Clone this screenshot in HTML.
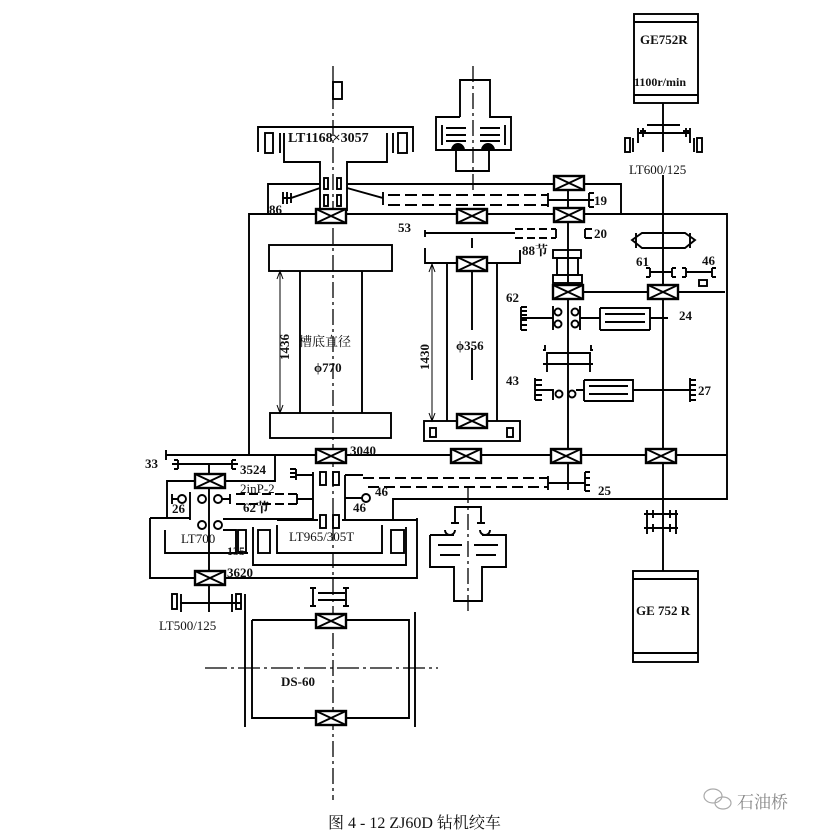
<!DOCTYPE html>
<html><head><meta charset="utf-8"><style>
html,body{margin:0;padding:0;background:#fff;}
svg{display:block;}
text{font-family:"Liberation Serif","Noto Serif CJK SC",serif;fill:#111;}
</style></head><body>
<svg width="834" height="839" viewBox="0 0 834 839" xmlns="http://www.w3.org/2000/svg">
<defs>
<g id="brg"><rect x="-15" y="-7" width="30" height="14" fill="#fff" stroke="#000" stroke-width="2.4"/><path d="M-15,-7 L15,7 M-15,7 L15,-7" stroke="#000" stroke-width="1.8"/></g>
</defs>
<g fill="none" stroke="#000" stroke-width="1.9">
<path d="M333,66 V800" stroke-dasharray="16,4,3,4" stroke-width="1.3"/>
<rect x="333" y="82" width="9" height="17"/>
<path d="M473,66 V190" stroke-dasharray="16,4,3,4" stroke-width="1.3"/>
<path d="M468,487 V612" stroke-dasharray="16,4,3,4" stroke-width="1.3"/>

<path d="M249,455 V214 H727 V499 H393 V519"/>
<path d="M268,214 V184 H320 M347,184 H621 V214"/>

<path d="M258,152 V127 H413 V152"/>
<rect x="265" y="133" width="8" height="20"/><path d="M280,133 V153 M393,133 V153"/>
<rect x="398" y="133" width="9" height="20"/>
<path d="M284,133 V162 H320 V211 M347,211 V162 H387 V133"/>
<rect x="324" y="178" width="4" height="11"/><rect x="337" y="178" width="4" height="11"/>
<rect x="324" y="195" width="4" height="11"/><rect x="337" y="195" width="4" height="11"/>
<path d="M320,188 L291,198 H283 M287,192 V204 M283,192 V204 M291,193 V203"/>
<path d="M347,188 L383,198 M383,192 V205"/>
<path d="M388,195 H548 M388,205 H548" stroke-dasharray="12,5"/>
<path d="M548,193 V207 M548,200 H589 M589,193 V207 M589,193 H594 M589,200 H594 M589,207 H594"/>

<path d="M460,117 V80 H490 V117 H511 V140 M460,117 H436 V140 M436,140 V150 H511 V140"/>
<path d="M442,125 V145 M505,125 V145 M446,128 H466 M446,135 H466 M446,141 H466 M480,128 H500 M480,135 H500 M480,141 H500"/>
<path d="M456,150 V171 H489 V150"/>
<path d="M452,150 a6,6 0 0 1 12,0 M482,150 a6,6 0 0 1 12,0" fill="#000"/>

<rect x="269" y="245" width="123" height="26"/>
<rect x="270" y="413" width="121" height="25"/>
<path d="M300,271 V413 M362,271 V413"/>
<path d="M280,273 V411 M277,279 L280,271 L283,279 M277,405 L280,413 L283,405" stroke-width="1"/>

<path d="M425,233 H515 M425,230 V237"/>
<path d="M515,229 H556 M515,238 H556" stroke-dasharray="8,4"/>
<path d="M556,229 V238 M585,229 V238 M585,229 H592 M585,238 H592"/>
<path d="M425,248 V263 H520 V250 M472,238 V248"/>
<path d="M447,263 V421 M497,263 V421 M472,271 V330 M472,348 V380"/>
<path d="M432,265 V420 M429,272 L432,264 L435,272 M429,413 L432,421 L435,413" stroke-width="1"/>
<rect x="424" y="421" width="96" height="20"/>
<rect x="430" y="428" width="6" height="9"/><rect x="507" y="428" width="6" height="9"/>

<path d="M568,189 V455 M568,462 V490"/>
<rect x="553" y="250" width="28" height="8"/><rect x="557" y="258" width="21" height="17"/><rect x="553" y="275" width="29" height="8"/>
<path d="M584,292 H648 M677,292 H725"/>
<path d="M521,318 H553 M521,307 V330 M521,307 H527 M521,311 H527 M521,315 H527 M521,320 H527 M521,325 H527 M521,330 H527"/>
<circle cx="558" cy="312" r="3.5"/><circle cx="558" cy="324" r="3.5"/><circle cx="575" cy="312" r="3.5"/><circle cx="575" cy="324" r="3.5"/>
<path d="M553,306 V330 M580,306 V330 M580,318 H600 M600,308 V330 M600,308 H650 V330 M600,330 H650 M605,314 H645 M605,322 H645" />
<path d="M650,318 H668"/>
<path d="M545,345 V350 H543 M591,345 V350 H593 M547,353 H590 V364 H547 Z M547,364 V372 M590,364 V372 M543,364 H593"/>
<path d="M535,378 V400 M535,380 H542 M535,385 H542 M535,390 H542 M535,395 H542 M535,400 H542 M542,390 H553 V400"/>
<circle cx="559" cy="394" r="3.5"/><circle cx="572" cy="394" r="3.5"/>
<path d="M576,390 H584 V401 M584,380 H633 V401 H584 M584,380 V390 M589,386 H628 M589,394 H628"/>
<path d="M633,390 H690 M690,378 V402 M690,380 H696 M690,385 H696 M690,390 H696 M690,395 H696 M690,400 H696"/>

<rect x="634" y="14" width="64" height="89"/><path d="M634,22 H698 M634,95 H698"/>
<path d="M663,103 V152 M663,175 V455 M663,462 V571"/>
<path d="M647,125 H680 M638,133 H690 M638,128 V143 M690,128 V143 M643,128 V137 M686,128 V137 M640,131 H646 M683,131 H689"/>
<rect x="625" y="138" width="5" height="14"/><path d="M633,138 V152 M694,138 V152"/><rect x="697" y="138" width="5" height="14"/>
<path d="M642,233 H685 L695,240 L685,248 H642 L632,240 Z M636,233 V248 M690,233 V248"/>
<path d="M650,268 V277 M650,272 H672 M672,268 V277 M646,268 H650 M646,277 H650 M672,268 H676 M672,277 H676"/>
<path d="M686,268 V277 M686,272 H712 M712,268 V277 M682,268 H686 M682,277 H686 M712,268 H716 M712,277 H716"/>
<rect x="699" y="280" width="8" height="6"/>

<path d="M166,455 H727 M166,450 V460"/>
<path d="M172,464 H238 M178,460 V469 M174,460 H178 M174,469 H178 M232,460 V469 M232,460 H236 M232,469 H236"/>
<path d="M209,464 V612"/>
<path d="M226,481 H275 V455 M194,481 H167 V518"/>
<circle cx="182" cy="499" r="4"/><path d="M172,499 H178 M172,494 V504"/>
<circle cx="202" cy="499" r="4"/><circle cx="218" cy="499" r="4"/>
<circle cx="202" cy="525" r="4"/><circle cx="218" cy="525" r="4"/>
<path d="M222,499 H230 M230,494 V504"/>
<path d="M236,494 H297 M236,504 H297" stroke-dasharray="9,4"/>
<path d="M297,494 V504 M297,499 H313"/>
<path d="M190,492 V520 M223,519 H313 V472 M296,469 V480 M290,469 H296 M290,473 H296 M290,477 H296 M296,475 H313"/>
<path d="M150,518 H190 M150,518 V578 H417 V518 M165,530 V553 H248 M223,530 H236 V553"/>
<rect x="238" y="530" width="8" height="22"/>
<path d="M253,527 V565 H406 V527 M277,525 V553 H382 V525 M277,520 H318 M342,520 H417"/>
<rect x="258" y="530" width="12" height="23"/><rect x="391" y="530" width="13" height="23"/>
<rect x="320" y="472" width="6" height="13"/><rect x="333" y="472" width="6" height="13"/>
<rect x="320" y="515" width="6" height="13"/><rect x="333" y="515" width="6" height="13"/>
<path d="M345,475 V519 M345,475 H363 M345,498 H362"/>
<circle cx="366" cy="498" r="4"/>
<path d="M363,478 H548 M368,487 H548" stroke-dasharray="11,5"/>
<path d="M548,476 V490 M548,483 H585 M585,472 V491 M585,472 H590 M585,478 H590 M585,485 H590 M585,491 H590"/>
<path d="M393,499 H727"/>
<path d="M180,603 H241"/>
<rect x="172" y="594" width="5" height="15"/><path d="M181,594 V612"/>
<path d="M232,594 V612"/><rect x="236" y="594" width="5" height="15"/><path d="M245,594 V612"/>
<path d="M318,593 H345 M318,600 H345 M313,587 V607 M346,587 V607 M310,588 H316 M343,588 H349 M310,606 H316 M343,606 H349"/>
<path d="M252,620 V700 M252,620 H409 V700 M252,640 V718 H409 V640"/>
<path d="M245,612 V727 M415,612 V727"/>
<path d="M205,668 H438" stroke-dasharray="22,4,3,4" stroke-width="1.3"/>
<path d="M455,523 V507 H481 V523 M451,523 H459 M477,523 H485"/>
<path d="M430,535 H454 M430,535 V567 H454 V601 H482 V567 H506 V535 H482 M438,545 H462 M474,545 H498 M440,555 H460 M476,555 H496 M445,530 a5,5 0 0 0 10,0 M480,530 a5,5 0 0 0 10,0"/>
<path d="M644,514 H678 M644,528 H678 M647,510 V534 M676,510 V534 M653,510 V518 M670,510 V518 M653,524 V532 M670,524 V532"/>
<rect x="633" y="571" width="65" height="91"/><path d="M633,579 H698 M633,653 H698"/>
</g>
<use href="#brg" x="331" y="216"/><use href="#brg" x="472" y="216"/><use href="#brg" x="569" y="215"/><use href="#brg" x="569" y="183"/>
<use href="#brg" x="472" y="264"/><use href="#brg" x="472" y="421"/>
<use href="#brg" x="568" y="292"/><use href="#brg" x="663" y="292"/>
<use href="#brg" x="331" y="456"/><use href="#brg" x="466" y="456"/><use href="#brg" x="566" y="456"/><use href="#brg" x="661" y="456"/>
<use href="#brg" x="210" y="481"/><use href="#brg" x="210" y="578"/>
<use href="#brg" x="331" y="621"/><use href="#brg" x="331" y="718"/>
<g font-size="13" font-weight="bold">
<text x="288" y="142" font-size="14">LT1168×3057</text>
<text x="640" y="44">GE752R</text>
<text x="634" y="86" font-size="12">1100r/min</text>
<text x="629" y="174" font-weight="normal">LT600/125</text>
<text x="269" y="214">86</text>
<text x="594" y="205">19</text>
<text x="398" y="232">53</text>
<text x="594" y="238">20</text>
<text x="522" y="255">88节</text>
<text x="636" y="266">61</text>
<text x="702" y="265">46</text>
<text x="506" y="302">62</text>
<text x="679" y="320">24</text>
<text x="506" y="385">43</text>
<text x="698" y="395">27</text>
<text x="299" y="346" font-weight="normal">槽底直径</text>
<text x="314" y="372">ϕ770</text>
<text x="456" y="350">ϕ356</text>
<text transform="translate(289,360) rotate(-90)">1436</text>
<text transform="translate(429,370) rotate(-90)">1430</text>
<text x="350" y="455">3040</text>
<text x="145" y="468">33</text>
<text x="240" y="474">3524</text>
<text x="240" y="493" font-weight="normal">2inP-2</text>
<text x="243" y="512">62节</text>
<text x="172" y="513">26</text>
<text x="375" y="496">46</text>
<text x="353" y="512">46</text>
<text x="598" y="495">25</text>
<text x="181" y="543" font-weight="normal">LT700</text>
<text x="227" y="555" font-size="12">135</text>
<text x="289" y="541" font-weight="normal">LT965/305T</text>
<text x="227" y="577">3620</text>
<text x="159" y="630" font-weight="normal">LT500/125</text>
<text x="281" y="686">DS-60</text>
<text x="636" y="615">GE 752 R</text>
</g>
<text x="328" y="828" font-size="16">图 4 - 12   ZJ60D 钻机绞车</text>
<g fill="none" stroke="#aaa" stroke-width="1.2"><ellipse cx="713" cy="796" rx="9" ry="7"/><ellipse cx="723" cy="803" rx="8" ry="6"/></g>
<text x="737" y="808" font-size="17" style="fill:#888" font-family="'Noto Sans CJK SC',sans-serif">石油桥</text>
</svg>
</body></html>
